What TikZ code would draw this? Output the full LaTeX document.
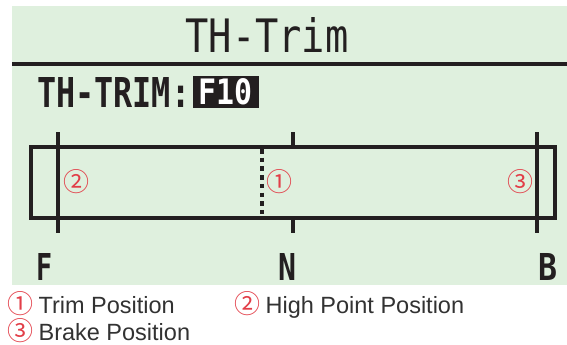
\documentclass[tikz,border=0pt]{standalone}
\usepackage{fontspec}
\setmainfont{Liberation Sans}
\newfontfamily\lcdfont{DejaVu Sans Mono}
\newfontfamily\circfont{Noto Sans CJK JP}
\usetikzlibrary{positioning}
\definecolor{lcdgreen}{RGB}{223,240,222}
\definecolor{ink}{RGB}{35,31,32}
\definecolor{markred}{RGB}{226,62,72}
\definecolor{leggray}{RGB}{50,50,50}

\begin{document}
\begin{tikzpicture}[
    x=1pt, y=-1pt,
    lcd/.style={inner sep=0pt, text=ink, font=\lcdfont\bfseries},
    bar/.style={ink, line width=4pt},
    posnum/.style={inner sep=0pt, text=markred, text height=18pt, text depth=3pt,
                   font=\circfont\fontsize{26}{26}\selectfont},
    legtxt/.style={inner sep=0pt, text=leggray, text height=17pt, text depth=3pt,
                   font=\fontsize{23.5}{23.5}\selectfont}
  ]
    \useasboundingbox (0,0) rectangle (567,345);

    %% LCD panel
    \fill[lcdgreen] (12,6) rectangle (567,285);
    \draw[bar] (12,64) -- (567,64);
    \node[lcd, font=\lcdfont] (title) at (267,35) {\resizebox{163pt}{35pt}{TH-Trim}};
    \node[lcd, anchor=west] (param) at (37,92) {\resizebox{153pt}{30pt}{TH-TRIM:}};
    \node[lcd, fill=ink, text=white, minimum width=66pt, minimum height=32pt]
          (value) at (225.5,92) {\resizebox{54pt}{26pt}{F10}};

    %% trim scale
    \draw[ink, line width=3.5pt] (31,147) rectangle (555,218);
    \draw[bar] (58,132) -- (58,233);
    \draw[bar] (537,132) -- (537,233);
    \draw[bar] (293,132) -- (293,147);
    \draw[bar] (293,218) -- (293,233);
    \draw[bar, dash pattern=on 4.5pt off 4.2pt] (262,149) -- (262,218);

    \node[posnum] (m2) at (76,184) {②};
    \node[posnum] (m1) at (279,184) {①};
    \node[posnum] (m3) at (520,184) {③};

    \node[lcd] (lf) at (45,267) {\resizebox{16pt}{27pt}{F}};
    \node[lcd] (ln) at (287,267) {\resizebox{18pt}{27pt}{N}};
    \node[lcd] (lb) at (548,267) {\resizebox{19pt}{27pt}{B}};

    %% legend
    \node[posnum, anchor=west] (k1) at (7,306) {①};
    \node[legtxt, right=5pt of k1] (t1) {Trim Position};
    \node[posnum, anchor=west] (k2) at (234,306) {②};
    \node[legtxt, right=5pt of k2] (t2) {High Point Position};
    \node[posnum, anchor=west] (k3) at (7,333) {③};
    \node[legtxt, right=5pt of k3] (t3) {Brake Position};
  \end{tikzpicture}
\end{document}
